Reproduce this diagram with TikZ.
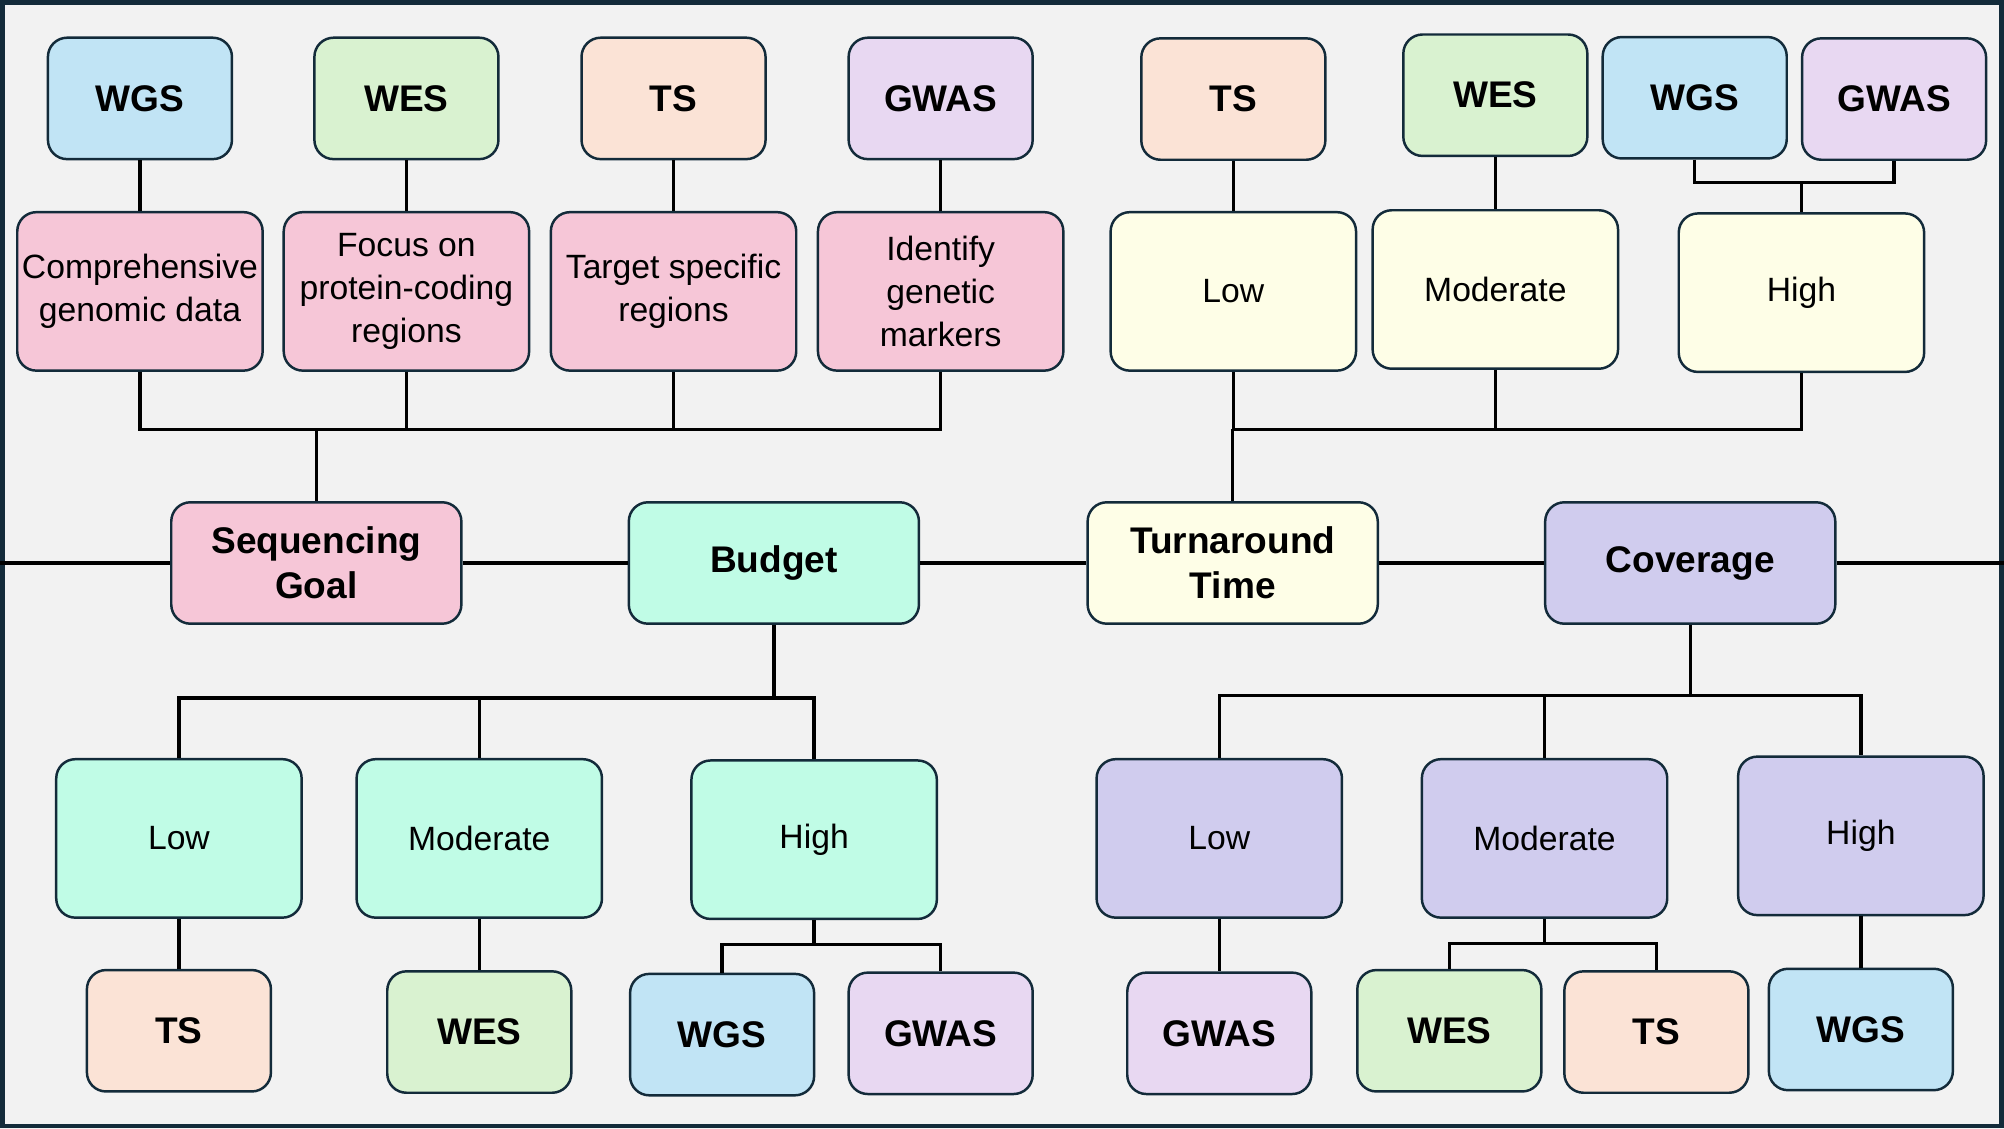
\documentclass[tikz,border=0pt]{standalone}
\usepackage{fontspec}
\setmainfont{Liberation Sans}
\usetikzlibrary{positioning}
\definecolor{wgsblue}{HTML}{C1E4F5}
\definecolor{wesgreen}{HTML}{D9F2D0}
\definecolor{tspeach}{HTML}{FBE3D6}
\definecolor{gwaslilac}{HTML}{E8D8F2}
\definecolor{goalpink}{HTML}{F6C6D7}
\definecolor{budgetmint}{HTML}{C0FCE6}
\definecolor{timecream}{HTML}{FEFEE7}
\definecolor{coverlav}{HTML}{D0CCEE}
\definecolor{edgenavy}{HTML}{132B3A}
\definecolor{pagegrey}{HTML}{F2F2F2}
\begin{document}
\begin{tikzpicture}[x=0.2mm, y=-0.2mm,
    box/.style={draw=edgenavy, line width=1.1pt, rounded corners=3mm,
      align=center, inner sep=2pt},
    tech/.style={box, minimum width=28.8mm, minimum height=19mm,
      font=\fontsize{16.5}{19}\selectfont\bfseries},
    crit/.style={box, minimum width=45.4mm, minimum height=19mm,
      font=\fontsize{16.5}{20}\selectfont\bfseries},
    level/.style={box, minimum width=38.4mm, minimum height=24.8mm,
      font=\fontsize{15}{19}\selectfont},
    wire/.style={black, line width=1.5pt}]
  \useasboundingbox (0,0) rectangle (1568,883);
  % page and frame
  \fill[pagegrey] (0,0) rectangle (1568,883);
  \draw[edgenavy, line width=2pt] (1.8,1.8) rectangle (1566.2,881.2);

  % the four criteria on the middle line
  \node[crit, fill=goalpink] (sg) at (247.5,440.5) {Sequencing\\Goal};
  \node[crit, fill=budgetmint] (bd) at (605.5,440.5) {Budget};
  \node[crit, fill=timecream] (tt) at (964.5,440.5) {Turnaround\\Time};
  \node[crit, fill=coverlav] (cv) at (1322.5,440.5) {Coverage};
  \coordinate (mainl) at (0,440.5);
  \coordinate (mainr) at (1568,440.5);
  \draw[wire] (mainl) -- (sg) -- (bd) -- (tt) -- (cv) -- (mainr);

  % sequencing goal: the method and what it is for
  \coordinate (busgoal) at (244,336);
  \draw[wire] (sg) -- (sg |- busgoal);
  \foreach \s/\x/\m/\c/\d in {a/109.5/WGS/wgsblue/{Comprehensive\\genomic data},
      b/318/WES/wesgreen/{Focus on\\protein-coding\\regions},
      c/527/TS/tspeach/{Target specific\\regions},
      d/736/GWAS/gwaslilac/{Identify\\genetic\\markers}}{
    \node[tech, fill=\c] (gm\s) at (\x,77) {\m};
    \node[level, fill=goalpink] (gd\s) at (\x,228) {\d};
    \draw[wire] (gm\s) -- (gd\s);
    \draw[wire] (gd\s) |- (sg |- busgoal);
  }

  % turnaround time
  \node[tech, fill=tspeach] (tmts) at (965,77.5) {TS};
  \node[tech, fill=wesgreen] (tmwes) at (1170,74.5) {WES};
  \node[tech, fill=wgsblue] (tmwgs) at (1326,76.5) {WGS};
  \node[tech, fill=gwaslilac] (tmgwas) at (1482,77.5) {GWAS};
  \node[level, fill=timecream] (tl) at (965,228) {Low};
  \node[level, fill=timecream] (tm) at (1170,226.5) {Moderate};
  \node[level, fill=timecream] (th) at (1409.5,229) {High};
  \draw[wire] (tmts) -- (tl);
  \draw[wire] (tmwes) -- (tm);
  \coordinate (bustop) at (1409.5,143);
  \draw[wire] (th) -- (bustop);
  \draw[wire] (tmwgs) |- (bustop) (tmgwas) |- (bustop);
  \coordinate (bustime) at (965,336);
  \draw[wire] (tt) -- (tt |- bustime);
  \foreach \n in {tl,tm,th}
    \draw[wire] (\n) |- (tt |- bustime);

  % budget
  \node[level, fill=budgetmint] (bl) at (140,656) {Low};
  \node[level, fill=budgetmint] (bm) at (375,656) {Moderate};
  \node[level, fill=budgetmint] (bh) at (637,657) {High};
  \node[tech, fill=tspeach] (blts) at (140,806.5) {TS};
  \node[tech, fill=wesgreen] (bmwes) at (375,807.5) {WES};
  \node[tech, fill=wgsblue] (bhwgs) at (565,809.5) {WGS};
  \node[tech, fill=gwaslilac] (bhgwas) at (736,808.5) {GWAS};
  \coordinate (busbudget) at (598,546);
  \draw[wire] (bd) -- (bd |- busbudget);
  \foreach \n in {bl,bm,bh}
    \draw[wire] (\n) |- (bd |- busbudget);
  \draw[wire] (bl) -- (blts);
  \draw[wire] (bm) -- (bmwes);
  \coordinate (busbh) at (637,739);
  \draw[wire] (bh) -- (busbh);
  \draw[wire] (bhwgs) |- (busbh) (bhgwas) |- (busbh);

  % coverage
  \node[level, fill=coverlav] (cl) at (954,656) {Low};
  \node[level, fill=coverlav] (cm) at (1208.5,656) {Moderate};
  \node[level, fill=coverlav] (ch) at (1456,654) {High};
  \node[tech, fill=gwaslilac] (clgwas) at (954,808.5) {GWAS};
  \node[tech, fill=wesgreen] (cmwes) at (1134,806.5) {WES};
  \node[tech, fill=tspeach] (cmts) at (1296,807.5) {TS};
  \node[tech, fill=wgsblue] (chwgs) at (1456,805.5) {WGS};
  \coordinate (buscover) at (1322.5,544);
  \draw[wire] (cv) -- (cv |- buscover);
  \foreach \n in {cl,cm,ch}
    \draw[wire] (\n) |- (cv |- buscover);
  \draw[wire] (cl) -- (clgwas);
  \draw[wire] (ch) -- (chwgs);
  \coordinate (buscm) at (1208.5,738);
  \draw[wire] (cm) -- (buscm);
  \draw[wire] (cmwes) |- (buscm) (cmts) |- (buscm);
\end{tikzpicture}
\end{document}
